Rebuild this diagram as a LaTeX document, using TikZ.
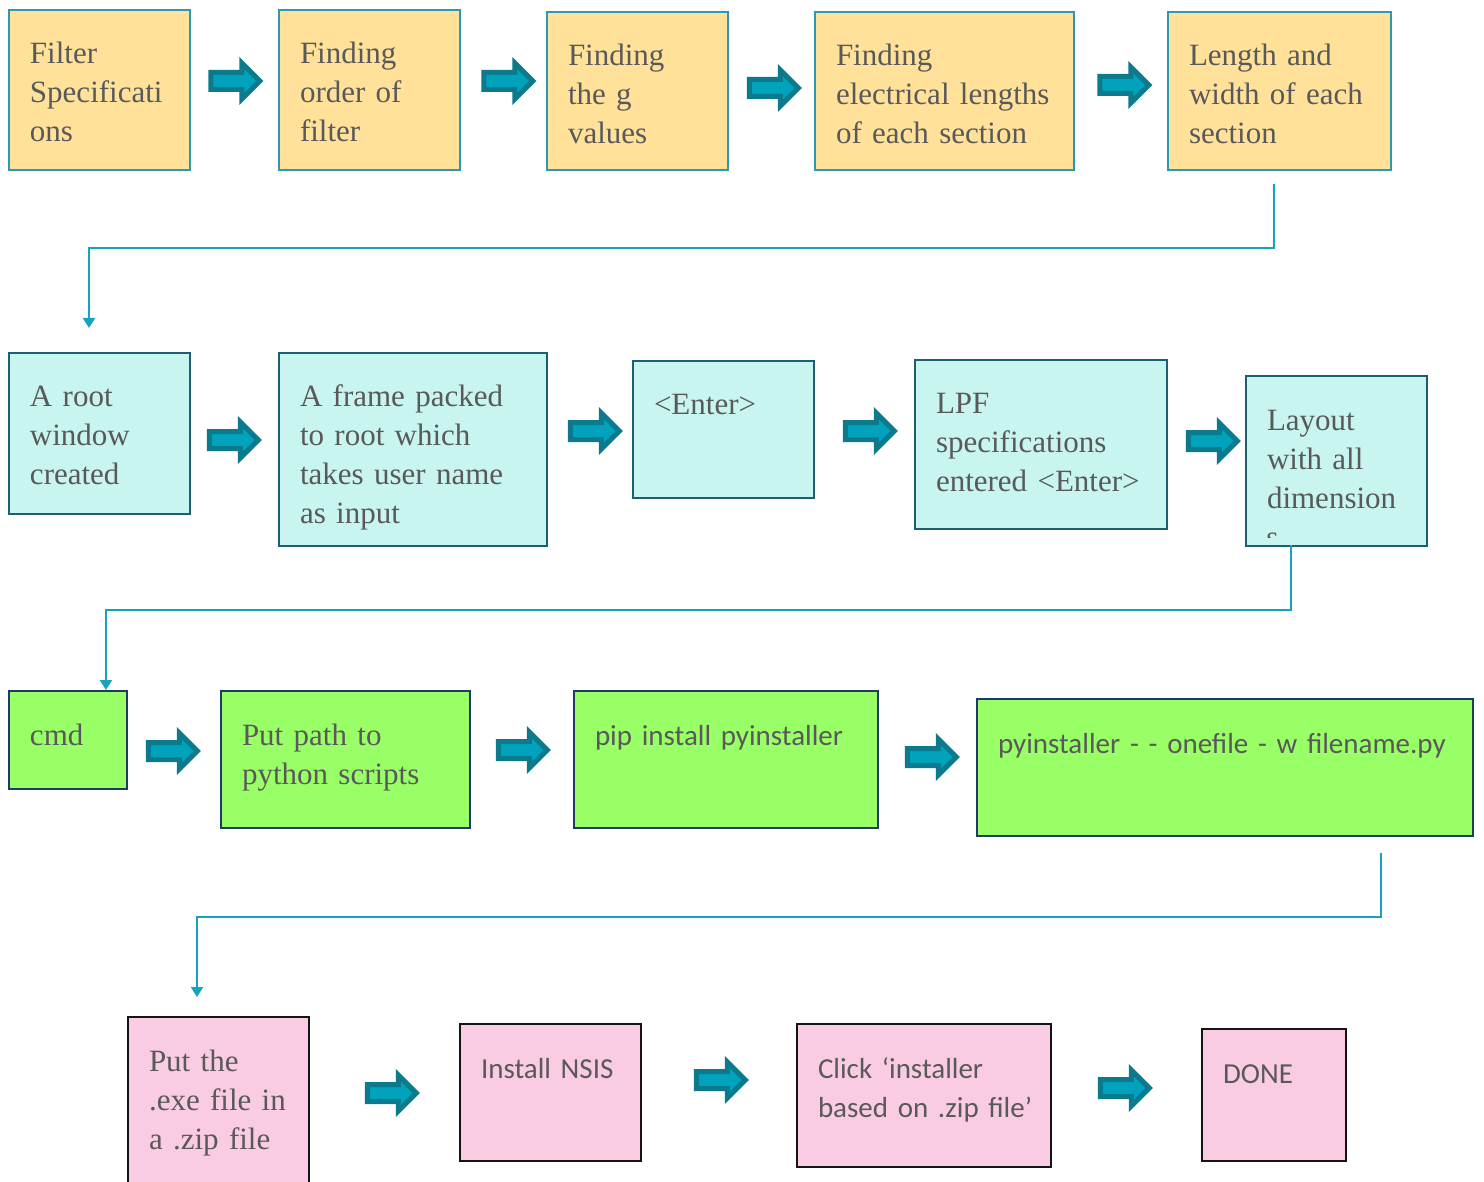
\documentclass[tikz,border=0pt]{standalone}
\usepackage{fontspec}
\setmainfont{Liberation Serif}
\newfontfamily\calfont{Carlito}
\usetikzlibrary{shapes.arrows, arrows.meta}
\definecolor{txtgray}{HTML}{595959}
\definecolor{yelfill}{HTML}{FFE19A}
\definecolor{yeledge}{HTML}{2E97B2}
\definecolor{cyfill}{HTML}{C8F5F0}
\definecolor{cyedge}{HTML}{1D5E72}
\definecolor{grfill}{HTML}{99FF66}
\definecolor{gredge}{HTML}{1F3A68}
\definecolor{pkfill}{HTML}{F9CCE3}
\definecolor{pkedge}{HTML}{141414}
\definecolor{arrdark}{HTML}{0B7A8C}
\definecolor{arrlight}{HTML}{00A2BC}
\definecolor{linkcol}{HTML}{17A3BF}
\tikzset{
    every node/.style={text=txtgray, font=\fontsize{15.5}{19.5}\selectfont},
    box/.style={draw, line width=1pt, anchor=north west, align=left,
        inner xsep=10.5pt, inner ysep=0pt, text height=27pt},
    sans/.style={font=\calfont\fontsize{14.5}{19.5}\selectfont},
    yel/.style={fill=yelfill, draw=yeledge},
    cy/.style={fill=cyfill, draw=cyedge},
    gr/.style={fill=grfill, draw=gredge},
    pk/.style={fill=pkfill, draw=pkedge},
    barrow/.style={single arrow, draw=arrdark, fill=arrlight, line width=2.5pt,
        inner sep=0pt, text height=6pt, text depth=0pt, minimum height=24.5pt,
        single arrow head extend=4.75pt, single arrow head indent=0pt},
    link/.style={draw=linkcol, line width=1pt, -{Triangle[length=5pt, width=6pt]}}
}

\begin{document}
\begin{tikzpicture}[x=0.5pt, y=-0.5pt]
	\useasboundingbox (0,0) rectangle (1484,1182);

	\node (f1) [box, yel, text width=69.5pt, text depth=53pt] at (8,9) {Filter\\\mbox{Specificati}\\ons};
	\node (f2) [box, yel, text width=69.5pt, text depth=53pt] at (278,9) {Finding\\order of\\filter};
	\node (f3) [box, yel, text width=69.5pt, text depth=52pt] at (546,11) {Finding\\the g\\values};
	\node (f4) [box, yel, text width=108.5pt, text depth=52pt] at (814,11) {Finding\\\mbox{electrical lengths}\\of each section};
	\node (f5) [box, yel, text width=90.5pt, text depth=52pt] at (1167,11) {Length and\\width of each\\section};

	\node (g1) [box, cy, text width=69.5pt, text depth=53.5pt] at (8,352) {A root\\window\\created};
	\node (g2) [box, cy, text width=113pt, text depth=69.5pt] at (278,352) {A frame packed\\to root which\\\mbox{takes user name}\\as input};
	\node (g3) [box, cy, text width=69.5pt, text depth=41.5pt] at (632,360) {<Enter>};
	\node (g4) [box, cy, text width=105pt, text depth=57.5pt] at (914,359) {LPF\\specifications\\\mbox{entered <Enter>}};
	\node (g5) [box, cy, text width=69.5pt, text depth=58pt] at (1245,375) {Layout\\with all\\\mbox{dimension}};
	\begin{scope}
		\clip (g5.north west) rectangle ([yshift=5pt]g5.south east);
		\node (g5s) [anchor=base west, inner sep=0pt] at ([xshift=10.5pt]g5.south west) {s};
	\end{scope}

	\node (h1) [box, gr, text width=38pt, text depth=22pt] at (8,690) {cmd};
	\node (h2) [box, gr, text width=103.5pt, text depth=41.5pt] at (220,690) {Put path to\\\mbox{python scripts}};
	\node (h3) [box, gr, sans, text width=131pt, text depth=41.5pt] at (573,690) {\mbox{pip install pyinstaller}};
	\node (h4) [box, gr, sans, text width=227pt, text depth=41.5pt] at (976,698) {\mbox{pyinstaller\hspace{5pt}- - onefile - w filename.py}};

	\node (k1) [box, pk, text width=69.5pt, text depth=73pt] at (127,1016) {Put the\\\mbox{.exe file in}\\a .zip file};
	\node (k2) [box, pk, sans, text width=69.5pt, text depth=41.5pt] at (459,1023) {Install NSIS};
	\node (k3) [box, pk, sans, text width=106pt, text depth=44.5pt] at (796,1023) {Click ‘installer\\\mbox{based on .zip file’}};
	\node (k4) [box, pk, sans, text width=51pt, text depth=39pt] at (1201,1028) {DONE};

	\node (a1) [barrow] at (231,81) {};
	\node (a2) [barrow] at (504,81) {};
	\node (a3) [barrow] at (769.5,88) {};
	\node (a4) [barrow] at (1120,85) {};
	\node (a5) [barrow] at (229.5,440) {};
	\node (a6) [barrow] at (590.5,431) {};
	\node (a7) [barrow] at (865.5,431) {};
	\node (a8) [barrow] at (1208.5,441) {};
	\node (a9) [barrow] at (168.5,751) {};
	\node (a10) [barrow] at (518.5,750) {};
	\node (a11) [barrow] at (927.5,757) {};
	\node (a12) [barrow] at (387.5,1093) {};
	\node (a13) [barrow] at (716.5,1080) {};
	\node (a14) [barrow] at (1120.5,1088) {};

	\coordinate (s1) at (1274,184); \coordinate (m1) at (89,248); \coordinate (e1) at (89,328);
	\coordinate (s2) at (1291,545); \coordinate (m2) at (106,610); \coordinate (e2) at (106,690);
	\coordinate (s3) at (1381,853); \coordinate (m3) at (197,917); \coordinate (e3) at (197,997);

	\draw [link] (s1) |- (m1) -- (e1);
	\draw [link] (s2) |- (m2) -- (e2);
	\draw [link] (s3) |- (m3) -- (e3);
\end{tikzpicture}
\end{document}
